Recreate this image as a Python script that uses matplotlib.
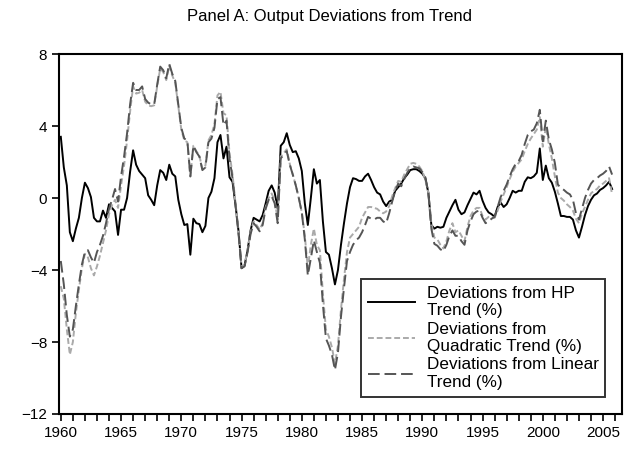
import numpy as np
import matplotlib
matplotlib.use('Agg')
import matplotlib.pyplot as plt
from matplotlib.ticker import MultipleLocator

plt.rcParams['font.family'] = ['Liberation Sans', 'DejaVu Sans']

START_YEAR = 1960

# quarterly deviations, 1960Q1 - 2005Q4
hp_dev = [
    3.4, 1.7, 0.7, -1.9, -2.4, -1.7, -1.1, 0.0, 0.85, 0.55,
    0.05, -1.1, -1.3, -1.3, -0.7, -1.1, -0.35, -0.55, -0.75, -2.05,
    -0.65, -0.65, 0.0, 1.45, 2.65, 1.85, 1.5, 1.3, 1.1, 0.15,
    -0.1, -0.4, 0.7, 1.55, 1.4, 1.0, 1.85, 1.35, 1.2, -0.1,
    -0.9, -1.5, -1.45, -3.15, -1.15, -1.4, -1.45, -1.9, -1.55, 0.0,
    0.35, 1.1, 3.1, 3.5, 2.2, 2.85, 1.15, 0.9, -0.4, -1.85,
    -3.9, -3.75, -2.9, -1.8, -1.1, -1.2, -1.3, -0.95, -0.3, 0.4,
    0.7, 0.3, -0.6, 2.9, 3.1, 3.6, 2.95, 2.55, 2.6, 2.2,
    1.5, -0.3, -1.5, 0.0, 1.6, 0.8, 1.0, -1.3, -3.0, -3.15,
    -3.9, -4.8, -4.0, -2.6, -1.4, -0.3, 0.6, 1.1, 1.05, 0.95,
    0.95, 1.2, 1.35, 1.0, 0.6, 0.3, 0.2, -0.2, -0.45, -0.2,
    -0.1, 0.4, 0.6, 0.8, 1.1, 1.3, 1.55, 1.6, 1.6, 1.5,
    1.35, 1.1, 0.3, -1.5, -1.7, -1.6, -1.65, -1.6, -1.1, -0.75,
    -0.4, -0.1, -0.65, -0.9, -0.8, -0.4, -0.05, 0.3, 0.2, 0.4,
    -0.15, -0.55, -0.8, -0.9, -1.05, -0.5, -0.25, -0.5, -0.35, 0.0,
    0.4, 0.3, 0.4, 0.4, 0.9, 1.15, 1.1, 1.2, 1.4, 2.75,
    1.0, 1.8, 1.1, 0.85, 0.35, -0.3, -1.0, -1.0, -1.05, -1.05,
    -1.2, -1.8, -2.2, -1.6, -0.95, -0.45, -0.1, 0.15, 0.25, 0.45,
    0.55, 0.7, 0.9, 0.5,
]

quad_dev = [
    -4.9, -5.6, -7.3, -8.7, -8.0, -6.4, -5.1, -3.9, -3.1, -3.3,
    -3.9, -4.3, -3.8, -3.2, -2.5, -1.8, -0.9, -0.4, -0.1, -0.55,
    0.7, 1.8, 3.2, 4.8, 6.2, 5.8, 5.85, 6.0, 5.35, 5.15,
    5.1, 5.15, 6.2, 7.2, 7.0, 6.55, 7.35, 6.8, 6.4, 5.1,
    3.8, 3.2, 3.1, 1.2, 2.9, 2.6, 2.35, 1.6, 1.8, 3.2,
    3.5, 4.1, 5.7, 5.9, 4.7, 4.6, 2.5, 1.3, -0.3, -1.9,
    -3.8, -3.7, -2.9, -1.9, -1.3, -1.5, -1.75, -1.4, -0.5, 0.0,
    0.25, -0.15, -1.2, 2.3, 2.5, 2.7, 1.9, 1.3, 0.7, 0.0,
    -0.8, -2.1, -3.9, -2.6, -1.7, -2.6, -2.9, -5.3, -7.3, -7.7,
    -8.3, -9.2, -8.2, -6.2, -4.5, -3.0, -2.2, -2.0, -1.8, -1.6,
    -1.1, -0.8, -0.5, -0.5, -0.55, -0.6, -0.75, -0.85, -0.75, -0.45,
    0.1, 0.55, 0.95, 0.9, 1.3, 1.6, 1.9, 1.95, 1.9, 1.75,
    1.5, 1.0, 0.3, -1.4, -2.2, -2.3, -2.6, -2.8, -2.4, -1.8,
    -1.4, -1.9, -1.8, -2.1, -2.4, -1.6, -1.0, -0.7, -0.55, -0.55,
    -1.0, -1.2, -1.05, -1.05, -1.1, -0.7, -0.2, 0.2, 0.6, 1.05,
    1.45, 1.75, 1.95, 2.15, 2.6, 3.0, 3.3, 3.55, 3.8, 4.5,
    2.85, 3.95, 3.0, 2.2, 1.2, 0.3, 0.0, -0.15, -0.35, -0.5,
    -0.7, -1.15, -1.4, -0.85, -0.5, -0.1, 0.26, 0.4, 0.5, 0.7,
    0.8, 0.95, 1.1, 0.2,
]

linear_dev = [
    -3.5, -4.8, -6.5, -7.7, -7.3, -6.0, -4.8, -3.7, -3.0, -2.9,
    -3.3, -3.6, -3.0, -2.6, -2.1, -1.4, -0.6, -0.1, 0.5, -0.2,
    1.2, 2.3, 3.6, 5.2, 6.4, 6.0, 6.0, 6.2, 5.5, 5.3,
    5.2, 5.2, 6.3, 7.3, 7.1, 6.65, 7.45, 6.9, 6.5, 5.2,
    3.9, 3.3, 3.2, 1.2, 2.9, 2.55, 2.3, 1.55, 1.7, 3.1,
    3.3, 3.9, 5.5, 5.6, 4.05, 4.3, 2.2, 1.1, -0.4, -2.0,
    -3.9, -3.8, -3.0, -2.0, -1.4, -1.6, -1.85, -1.5, -0.6, -0.1,
    0.1, -0.3, -1.4, 2.2, 2.4, 2.6, 1.85, 1.3, 0.7, 0.0,
    -0.8, -2.3, -4.3, -3.35, -2.35, -3.0, -3.6, -5.9, -7.8, -8.2,
    -8.7, -9.55, -8.6, -6.6, -5.0, -3.5, -3.0, -2.6, -2.35, -2.2,
    -1.9, -1.5, -1.05, -1.15, -1.2, -1.1, -1.1, -1.3, -1.4, -0.85,
    -0.2, 0.4, 0.8, 0.65, 1.05, 1.4, 1.65, 1.75, 1.7, 1.65,
    1.45, 1.15, 0.3, -1.7, -2.55, -2.65, -2.85, -2.95, -2.6, -2.1,
    -1.8, -2.1, -2.1, -2.4, -2.6, -1.8, -1.3, -0.9, -0.75, -0.7,
    -1.1, -1.4, -1.3, -1.15, -1.05, -0.5, 0.05, 0.4, 0.75, 1.2,
    1.6, 1.9, 2.05, 2.4, 3.0, 3.5, 3.7, 3.8, 4.15, 4.9,
    3.15, 4.3, 3.25, 2.7, 1.95, 0.75, 0.55, 0.45, 0.3, 0.2,
    -0.1, -0.85, -1.2, -0.6, 0.0, 0.45, 0.8, 1.0, 1.1, 1.25,
    1.35, 1.5, 1.75, 1.3,
]

year_ticks = list(range(1960, 2006, 5))

quarters = START_YEAR + np.arange(len(hp_dev)) / 4.0

fig = plt.figure(figsize=(6.24, 4.49), dpi=100)
ax = fig.add_axes([59 / 624, 35 / 449, 563 / 624, 360 / 449])

ax.plot(quarters, hp_dev, color='black', lw=1.4, label='Deviations from HP\nTrend (%)')
ax.plot(quarters, quad_dev, color='#aaaaaa', lw=1.4, dashes=(3, 1.5),
        label='Deviations from\nQuadratic Trend (%)')
ax.plot(quarters, linear_dev, color='#555555', lw=1.4, dashes=(6, 2.5),
        label='Deviations from Linear\nTrend (%)')

ax.set_xlim(1959.85, 1959.85 + 563 / 12.05)
ax.set_ylim(-12, 8)
ax.set_yticks([-12, -8, -4, 0, 4, 8])
ax.set_xticks(year_ticks)
ax.xaxis.set_minor_locator(MultipleLocator(1))
ax.tick_params(axis='both', which='both', direction='out', labelsize=11, width=1.2)
ax.tick_params(axis='x', which='both', length=5)
ax.tick_params(axis='y', length=5)
for s in ax.spines.values():
    s.set_linewidth(1.5)

ax.set_title('Panel A: Output Deviations from Trend', fontsize=12, pad=24, x=0.48)

leg = ax.legend(loc='upper left', bbox_to_anchor=(0.536, 0.375), fontsize=12.3,
                frameon=True, fancybox=False, borderpad=0.4, labelspacing=0.2,
                handlelength=2.8, handletextpad=0.65, borderaxespad=0)
leg.get_frame().set_edgecolor('black')
leg.get_frame().set_linewidth(1.4)

fig.savefig('out.png', dpi=100)
